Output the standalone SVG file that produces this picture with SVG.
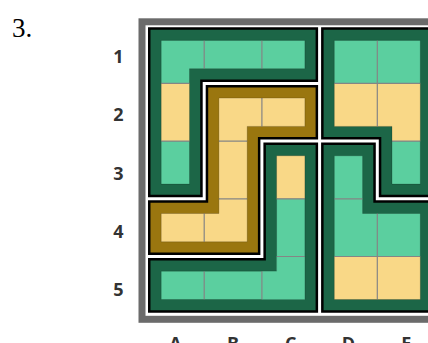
<svg xmlns="http://www.w3.org/2000/svg" width="428" height="343" viewBox="0 0 428 343">
<style>
.bg{fill:#ffffff}
.frame{fill:none;stroke:#6b6b6b;stroke-width:7}
.rg{fill:#1c6647;stroke:#000;stroke-width:2.5;stroke-linejoin:miter}
.rb{fill:#9a760f;stroke:#000;stroke-width:2.5;stroke-linejoin:miter}
.g{fill:#5bcf9f}
.y{fill:#f9d887}
.div{stroke:#858585;stroke-width:1.2;fill:none}
.edge{fill:none;stroke:#000;stroke-opacity:0.18;stroke-width:1}
.lab{font-family:"Open Sans","Noto Sans",sans-serif;font-weight:bold;font-size:18px;fill:#333333;text-anchor:middle}
.num{font-family:"Liberation Serif","DejaVu Serif",serif;font-size:27px;fill:#000}
</style>
<defs>
<clipPath id="c1"><path d="M161.2,40.4 H304.9 V68.7 H189.5 V184.1 H161.2 Z"/></clipPath>
<clipPath id="c2"><path d="M218.9,98.1 H304.9 V126.4 H247.2 V241.8 H161.2 V213.5 H218.9 Z"/></clipPath>
<clipPath id="c3"><path d="M276.6,155.8 H304.9 V299.5 H161.2 V271.2 H276.6 Z"/></clipPath>
<clipPath id="c4"><path d="M334.3,40.4 H420.3 V184.1 H392 V126.4 H334.3 Z"/></clipPath>
<clipPath id="c5"><path d="M334.3,155.8 H362.6 V213.5 H420.3 V299.5 H334.3 Z"/></clipPath>
</defs>
<rect class="bg" x="0" y="0" width="428" height="343"/>
<text class="num" x="12" y="36.7">3.</text>
<g id="row-labels">
<text class="lab" x="118.5" y="63">1</text>
<text class="lab" x="118.5" y="121.3">2</text>
<text class="lab" x="118.5" y="179.6">3</text>
<text class="lab" x="118.5" y="238">4</text>
<text class="lab" x="118.5" y="296.3">5</text>
</g>
<g id="col-labels">
<text class="lab" x="175.4" y="349.5">A</text>
<text class="lab" x="233.1" y="349.5">B</text>
<text class="lab" x="290.8" y="349.5">C</text>
<text class="lab" x="348.5" y="349.5">D</text>
<text class="lab" x="406.2" y="349.5">E</text>
</g>
<rect id="frame" class="frame" x="142" y="21.8" width="297.5" height="297.5"/>
<g id="region1">
<path class="rg" d="M149.25,28.45 H316.85 V80.65 H201.45 V196.05 H149.25 Z"/>
<g clip-path="url(#c1)">
<rect class="g" x="146.5" y="25.7" width="173.1" height="57.7"/>
<rect class="y" x="146.5" y="83.4" width="57.7" height="57.7"/>
<rect class="g" x="146.5" y="141.1" width="57.7" height="57.7"/>
<path class="div" d="M204.2,25.7 V83.4 M261.9,25.7 V83.4 M146.5,83.4 H204.2 M146.5,141.1 H204.2"/>
</g>
<path class="edge" d="M161.2,40.4 H304.9 V68.7 H189.5 V184.1 H161.2 Z"/>
</g>
<g id="region2">
<path class="rb" d="M206.95,86.15 H316.85 V138.35 H259.15 V253.75 H149.25 V201.55 H206.95 Z"/>
<g clip-path="url(#c2)">
<rect class="y" x="146.5" y="83.4" width="173.1" height="173.1"/>
<path class="div" d="M261.9,83.4 V141.1 M204.2,141.1 H261.9 M204.2,198.8 H261.9 M204.2,198.8 V256.5"/>
</g>
<path class="edge" d="M218.9,98.1 H304.9 V126.4 H247.2 V241.8 H161.2 V213.5 H218.9 Z"/>
</g>
<g id="region3">
<path class="rg" d="M264.65,143.85 H316.85 V311.45 H149.25 V259.25 H264.65 Z"/>
<g clip-path="url(#c3)">
<rect class="y" x="261.9" y="141.1" width="57.7" height="57.7"/>
<rect class="g" x="261.9" y="198.8" width="57.7" height="115.4"/>
<rect class="g" x="146.5" y="256.5" width="173.1" height="57.7"/>
<path class="div" d="M261.9,198.8 H319.6 M261.9,256.5 H319.6 M204.2,256.5 V314.2 M261.9,256.5 V314.2"/>
</g>
<path class="edge" d="M276.6,155.8 H304.9 V299.5 H161.2 V271.2 H276.6 Z"/>
</g>
<g id="region4">
<path class="rg" d="M322.35,28.45 H432.25 V196.05 H380.05 V138.35 H322.35 Z"/>
<g clip-path="url(#c4)">
<rect class="g" x="319.6" y="25.7" width="115.4" height="57.7"/>
<rect class="y" x="319.6" y="83.4" width="115.4" height="57.7"/>
<rect class="g" x="377.3" y="141.1" width="57.7" height="57.7"/>
<path class="div" d="M377.3,25.7 V141.1 M319.6,83.4 H435 M377.3,141.1 H435"/>
</g>
<path class="edge" d="M334.3,40.4 H420.3 V184.1 H392 V126.4 H334.3 Z"/>
</g>
<g id="region5">
<path class="rg" d="M322.35,143.85 H374.55 V201.55 H432.25 V311.45 H322.35 Z"/>
<g clip-path="url(#c5)">
<rect class="g" x="319.6" y="141.1" width="115.4" height="115.4"/>
<rect class="y" x="319.6" y="256.5" width="115.4" height="57.7"/>
<path class="div" d="M319.6,198.8 H377.3 M377.3,198.8 V314.2 M319.6,256.5 H435"/>
</g>
<path class="edge" d="M334.3,155.8 H362.6 V213.5 H420.3 V299.5 H334.3 Z"/>
</g>
<g id="connectors"/>
</svg>
